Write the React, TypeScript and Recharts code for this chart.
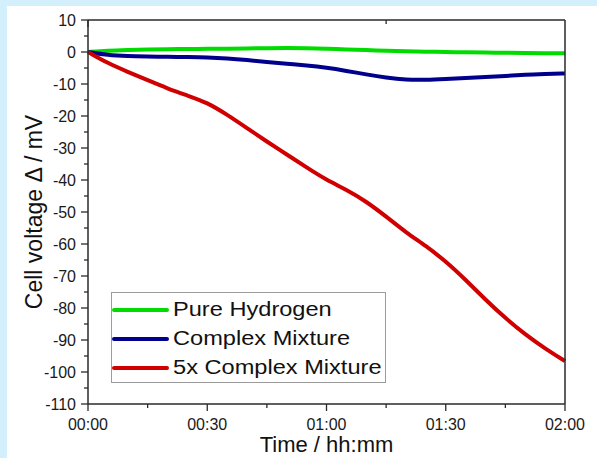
import { LineChart, Line, XAxis, YAxis, Legend } from "recharts";

// minutes since start
const times = [0, 5, 10, 15, 20, 25, 30, 35, 40, 45, 50, 55, 60, 65, 70, 75, 80, 85, 90, 95, 100, 105, 110, 115, 120];
const pureHydrogen = [0, 0.4, 0.6, 0.8, 0.9, 0.9, 1.0, 1.0, 1.1, 1.2, 1.3, 1.2, 1.0, 0.8, 0.6, 0.4, 0.2, 0.1, 0.0, -0.1, -0.2, -0.2, -0.3, -0.4, -0.4];
const complexMixture = [0, -1.0, -1.3, -1.4, -1.5, -1.6, -1.7, -2.0, -2.5, -3.1, -3.7, -4.2, -4.9, -5.9, -7.0, -8.0, -8.7, -8.7, -8.4, -8.1, -7.8, -7.5, -7.1, -6.9, -6.7];
const complexMixture5x = [0, -3.5, -6.2, -8.8, -11.4, -13.6, -15.8, -19.6, -23.8, -28.0, -32.0, -36.1, -40.0, -43.0, -46.7, -51.4, -56.4, -60.6, -65.4, -71.2, -77.4, -83.2, -88.3, -92.7, -96.6];

const seriesNames = ["Pure Hydrogen", "Complex Mixture", "5x Complex Mixture"];
const timeTicks = [0, 15, 30, 45, 60, 75, 90, 105, 120];
const voltageTicks = [-110, -105, -100, -95, -90, -85, -80, -75, -70, -65, -60, -55, -50, -45, -40, -35, -30, -25, -20, -15, -10, -5, 0, 5, 10];

const data = times.map((t, i) => ({
  t,
  h2: pureHydrogen[i],
  mix: complexMixture[i],
  mix5: complexMixture5x[i],
}));

const FONT = '"Liberation Sans", Arial, sans-serif';
const AX = "#2a2a2a";
const MAJOR = 7;
const MINOR = 4;

const hhmm = (m: number) => {
  const h = Math.floor(m / 60);
  const mm = m % 60;
  return `${String(h).padStart(2, "0")}:${String(mm).padStart(2, "0")}`;
};

function BottomTick({ x, y, payload }: any) {
  const major = payload.value % 30 === 0;
  return (
    <g>
      <line x1={x} x2={x} y1={y} y2={y + (major ? MAJOR : MINOR)} stroke={AX} strokeWidth={1.3} />
      {major && (
        <text x={x} y={y + 26} textAnchor="middle" fontSize={16} fontFamily={FONT} fill="#1a1a1a">
          {hhmm(payload.value)}
        </text>
      )}
    </g>
  );
}

function TopTick({ x, y, payload }: any) {
  const major = payload.value % 30 === 0;
  return <line x1={x} x2={x} y1={y} y2={y + (major ? MAJOR : MINOR)} stroke={AX} strokeWidth={1.3} />;
}

function LeftTick({ x, y, payload }: any) {
  const major = payload.value % 10 === 0;
  return (
    <g>
      <line x1={x - (major ? MAJOR : MINOR)} x2={x} y1={y} y2={y} stroke={AX} strokeWidth={1.3} />
      {major && (
        <text x={x - 12} y={y} dy="0.35em" textAnchor="end" fontSize={16} fontFamily={FONT} fill="#1a1a1a">
          {payload.value}
        </text>
      )}
    </g>
  );
}

function RightTick({ x, y, payload }: any) {
  const major = payload.value % 10 === 0;
  return <line x1={x - (major ? MAJOR : MINOR)} x2={x} y1={y} y2={y} stroke={AX} strokeWidth={1.3} />;
}

function LegendBox({ payload }: any) {
  const items = [...(payload || [])].sort(
    (a: any, b: any) => seriesNames.indexOf(a.value) - seriesNames.indexOf(b.value)
  );
  return (
    <div
      style={{
        width: 275,
        height: 91,
        boxSizing: "border-box",
        border: "1px solid #9c9c9c",
        background: "#fff",
        paddingTop: 2,
        fontFamily: FONT,
      }}
    >
      {items.map((p: any) => (
        <div key={p.value} style={{ display: "flex", alignItems: "center", height: 29 }}>
          <div style={{ width: 57, height: 4, background: p.color, borderRadius: 2, marginRight: 4 }} />
          <span
            style={{
              display: "inline-block",
              fontSize: 20,
              lineHeight: "29px",
              whiteSpace: "nowrap",
              color: "#111",
              transform: "scaleX(1.18)",
              transformOrigin: "left center",
            }}
          >
            {p.value}
          </span>
        </div>
      ))}
    </div>
  );
}

export default function App() {
  return (
    <div
      style={{
        position: "absolute",
        left: 0,
        top: 0,
        width: 597,
        height: 458,
        background: "#d3effc",
        overflow: "hidden",
      }}
    >
      <div style={{ position: "absolute", left: 7, top: 6, width: 590, height: 452, background: "#fff" }}>
        <LineChart width={590} height={452} data={data} margin={{ top: 13, right: 31, bottom: 0, left: 0 }}>
          <XAxis
            dataKey="t"
            type="number"
            domain={[0, 120]}
            ticks={timeTicks}
            interval={0}
            height={54}
            tickSize={0}
            tickMargin={0}
            tickLine={false}
            axisLine={{ stroke: AX, strokeWidth: 1.5 }}
            tick={<BottomTick />}
            label={(props: any) => {
              const vb = props.viewBox;
              return (
                <text
                  x={vb.x + vb.width / 2}
                  y={vb.y + 48}
                  textAnchor="middle"
                  fontSize={22}
                  fontFamily={FONT}
                  fill="#111"
                >
                  Time / hh:mm
                </text>
              );
            }}
          />
          <XAxis
            xAxisId="top"
            orientation="top"
            type="number"
            domain={[0, 120]}
            ticks={timeTicks}
            interval={0}
            height={1}
            tickSize={0}
            tickMargin={0}
            tickLine={false}
            axisLine={{ stroke: AX, strokeWidth: 1.5 }}
            tick={<TopTick />}
          />
          <YAxis
            type="number"
            domain={[-110, 10]}
            ticks={voltageTicks}
            interval={0}
            width={81}
            tickSize={0}
            tickMargin={0}
            tickLine={false}
            axisLine={{ stroke: AX, strokeWidth: 1.5 }}
            tick={<LeftTick />}
            label={(props: any) => {
              const vb = props.viewBox;
              const cx = 27;
              const cy = vb.y + vb.height / 2;
              return (
                <text
                  x={cx}
                  y={cy}
                  dy="0.35em"
                  textAnchor="middle"
                  fontSize={23}
                  fontFamily={FONT}
                  fill="#111"
                  transform={`rotate(-90 ${cx} ${cy})`}
                >
                  Cell voltage Δ / mV
                </text>
              );
            }}
          />
          <YAxis
            yAxisId="right"
            orientation="right"
            type="number"
            domain={[-110, 10]}
            ticks={voltageTicks}
            interval={0}
            width={1}
            tickSize={0}
            tickMargin={0}
            tickLine={false}
            axisLine={{ stroke: AX, strokeWidth: 1.5 }}
            tick={<RightTick />}
          />
          <Legend
            layout="vertical"
            align="center"
            verticalAlign="middle"
            content={<LegendBox />}
            wrapperStyle={{ position: "absolute", left: 104, top: 286, width: 275, height: 91 }}
          />
          <Line dataKey="h2" name={seriesNames[0]} type="basis" stroke="#00dc00" strokeWidth={4} dot={false} isAnimationActive={false} />
          <Line dataKey="mix" name={seriesNames[1]} type="basis" stroke="#00008c" strokeWidth={4} dot={false} isAnimationActive={false} />
          <Line dataKey="mix5" name={seriesNames[2]} type="basis" stroke="#d00000" strokeWidth={4} dot={false} isAnimationActive={false} />
        </LineChart>
      </div>
    </div>
  );
}
